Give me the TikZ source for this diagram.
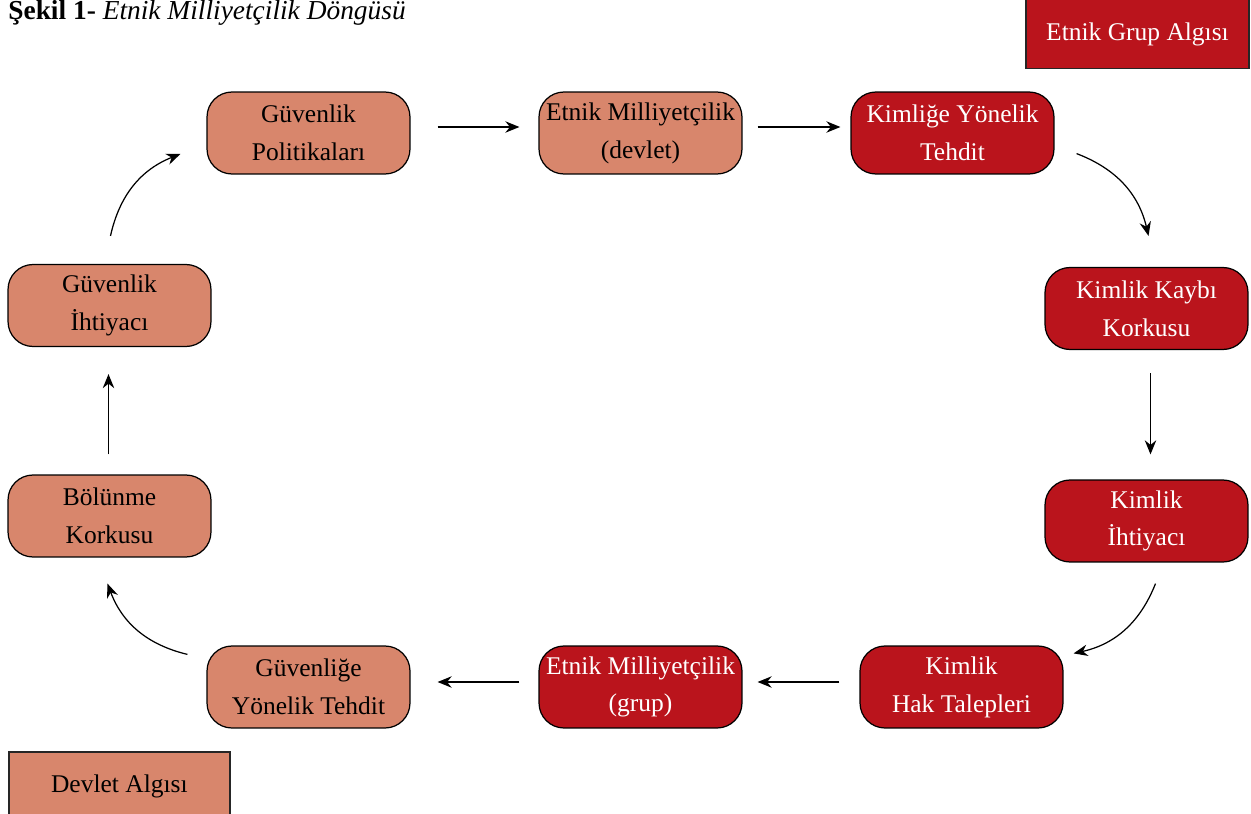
\documentclass[tikz,border=0pt]{standalone}
\usepackage{fontspec}
\setmainfont{Liberation Serif}
\usetikzlibrary{calc,arrows.meta}
\definecolor{devletc}{HTML}{D8866C}
\definecolor{grupc}{HTML}{BA141C}
\begin{document}
\begin{tikzpicture}[x=0.02cm,y=-0.02cm,
  every node/.style={font=\fontsize{14.5}{21.5}\selectfont},
  boxbase/.style={draw=black,line width=0.7pt,rounded corners=0.5cm,
    minimum width=4.06cm,minimum height=1.64cm,align=center,inner sep=1pt},
  devletbox/.style={boxbase,fill=devletc,text=black},
  grupbox/.style={boxbase,fill=grupc,text=white},
  arr/.style={-{Stealth[length=8pt,width=6.5pt]},line width=0.7pt},
  legendbox/.style={draw=black!85,line width=1pt,minimum width=4.46cm,minimum height=1.38cm}]
\clip (0,0) rectangle (1251,814);

% title
\node[anchor=base west,inner sep=0pt,font=\fontsize{15.6}{19}\selectfont] (title) at (8,20)
  {\textbf{Şekil 1-} \textit{Etnik Milliyetçilik Döngüsü}};

% legend
\node[legendbox,fill=grupc,text=white] (lgrup) at (1137.5,34) {Etnik Grup Algısı};
\node[legendbox,fill=devletc,text=black,anchor=north west,minimum width=4.42cm] (ldevlet) at (8,751) {Devlet Algısı};

% cycle nodes
\node[devletbox] (gp) at (308.5,133) {Güvenlik\\Politikaları};
\node[devletbox] (emd) at (640.5,133) {Etnik Milliyetçilik\\(devlet)};
\node[grupbox] (kt) at (952.5,133) {Kimliğe Yönelik\\Tehdit};
\node[grupbox] (kk) at (1146.5,308.5) {Kimlik Kaybı\\Korkusu};
\node[grupbox] (ki) at (1146.5,521) {Kimlik\\İhtiyacı};
\node[grupbox] (kh) at (961.5,687) {Kimlik\\Hak Talepleri};
\node[grupbox] (emg) at (640.5,687) {Etnik Milliyetçilik\\(grup)};
\node[devletbox] (gy) at (308.5,687) {Güvenliğe\\Yönelik Tehdit};
\node[devletbox] (bk) at (109.5,516) {Bölünme\\Korkusu};
\node[devletbox] (gi) at (109.5,305.5) {Güvenlik\\İhtiyacı};

% connectors
\draw[arr,shorten <=0.54cm,shorten >=0.38cm] ([yshift=0.12cm]gp.east) -- ([yshift=0.12cm]emd.west);
\draw[arr,shorten <=0.3cm,shorten >=0.2cm] ([yshift=0.12cm]emd.east) -- ([yshift=0.12cm]kt.west);
\draw[arr] ($(kt.south east)+(22,-21)$) to[bend left=28] ($(kk.north)+(2,-31)$);
\draw[arr,shorten <=0.46cm,shorten >=0.5cm] ([xshift=0.08cm]kk.south) -- ([xshift=0.08cm]ki.north);
\draw[arr] ($(ki.south)+(9,21)$) to[bend left=28] ($(kh.north east)+(10,8)$);
\draw[arr,shorten <=0.4cm,shorten >=0.3cm] ([yshift=0.1cm]kh.west) -- ([yshift=0.1cm]emg.east);
\draw[arr,shorten <=0.38cm,shorten >=0.54cm] ([yshift=0.1cm]emg.west) -- ([yshift=0.1cm]gy.east);
\draw[arr] ($(gy.north west)+(-19,9)$) to[bend left=28] ($(bk.south)+(-2,26)$);
\draw[arr,shorten <=0.4cm,shorten >=0.54cm] ([xshift=-0.02cm]bk.north) -- ([xshift=-0.02cm]gi.south);
\draw[arr] ($(gi.north)+(1,-28)$) to[bend left=28] ($(gp.west)+(-26,21)$);
\end{tikzpicture}
\end{document}
